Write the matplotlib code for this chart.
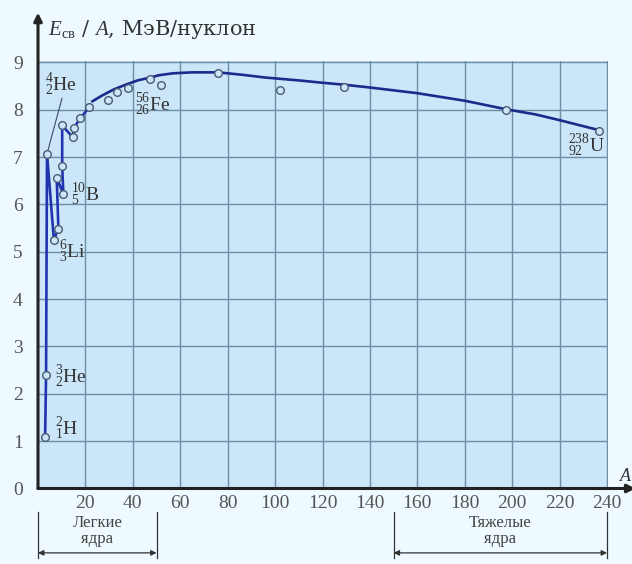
import matplotlib.pyplot as plt

plt.rcParams['font.family'] = ['Liberation Serif', 'DejaVu Serif']
plt.rcParams['mathtext.fontset'] = 'custom'
plt.rcParams['mathtext.rm'] = 'Liberation Serif'
plt.rcParams['mathtext.it'] = 'Liberation Serif:italic'

# measured nuclei (open circles): mass number A and binding energy per nucleon
point_A = [3.0, 3.4, 3.8, 6.7, 8.6, 7.9, 10.7, 10.2, 10.2, 14.6, 15.2, 17.8, 21.6,
           29.6, 33.4, 38, 47.4, 52, 76, 102, 129, 197.5, 236.6]
point_E = [1.08, 2.39, 7.07, 5.25, 5.49, 6.56, 6.22, 6.81, 7.67, 7.42, 7.62, 7.82, 8.05,
           8.2, 8.38, 8.47, 8.64, 8.53, 8.77, 8.41, 8.49, 7.99, 7.55]

# light nuclei broken line
light_A = [3.0, 3.4, 3.8, 6.7, 8.6, 7.9, 10.7, 10.2, 10.2, 14.6, 15.2, 17.8, 21.6]
light_E = [1.08, 2.39, 7.07, 5.25, 5.49, 6.56, 6.22, 6.81, 7.67, 7.42, 7.62, 7.82, 8.05]

# smooth trend from A ~ 23 to uranium
curve_A = [23, 27, 32, 37, 42, 47.4, 51, 57, 65, 76, 86, 96, 110, 120, 129, 140,
           160, 180, 197.5, 210, 220, 236.6]
curve_E = [8.18, 8.3, 8.43, 8.53, 8.62, 8.68, 8.73, 8.77, 8.79, 8.79, 8.74, 8.68,
           8.62, 8.57, 8.53, 8.47, 8.35, 8.19, 8.01, 7.9, 7.78, 7.57]

# isotope labels: (text, A, E)
labels = [(r'${}^{4}_{2}\mathrm{He}$', 3.0, 8.52),
          (r'${}^{56}_{26}\mathrm{Fe}$', 41.0, 8.1),
          (r'${}^{10}_{5}\mathrm{B}$', 14.0, 6.2),
          (r'${}^{6}_{3}\mathrm{Li}$', 8.8, 5.0),
          (r'${}^{3}_{2}\mathrm{He}$', 7.2, 2.35),
          (r'${}^{2}_{1}\mathrm{H}$', 7.2, 1.27),
          (r'${}^{238}_{92}\mathrm{U}$', 223.5, 7.23)]

x_ticks = list(range(20, 241, 20))
y_ticks = list(range(0, 10))

bg = '#eefaff'
fill = '#cae6f8'
line_c = '#1c2a8c'
grid_c = '#6d8ea5'
text_c = '#444444'

fig = plt.figure(figsize=(6.32, 5.64), dpi=100, facecolor=bg)
ax = fig.add_axes([38 / 632, 1 - 488.5 / 564, 570 / 632, 427.5 / 564])
ax.set_facecolor(fill)
ax.set_xlim(0, 240.4)
ax.set_ylim(0, 9.03)
ax.set_xticks(x_ticks)
ax.set_yticks(y_ticks)
ax.tick_params(length=0, labelsize=14, labelcolor='#555555')
ax.tick_params(axis='x', pad=5)
ax.tick_params(axis='y', pad=11)
ax.grid(True, color=grid_c, lw=1)
ax.set_axisbelow(True)
for s in ax.spines.values():
    s.set_visible(False)

# axes with arrows
ax.annotate('', xy=(0, 10.05), xytext=(0, 0),
            arrowprops=dict(arrowstyle='-|>', color='#222222', lw=2.2,
                            mutation_scale=12, shrinkA=0, shrinkB=0),
            annotation_clip=False)
ax.annotate('', xy=(252, 0), xytext=(0, 0),
            arrowprops=dict(arrowstyle='-|>', color='#222222', lw=2.2,
                            mutation_scale=12, shrinkA=0, shrinkB=0),
            annotation_clip=False)
ax.text(245.3, 0.15, 'A', fontsize=13, style='italic', color='#333333',
        clip_on=False)
ax.text(4.2, 9.7, r'$E_{\mathrm{св}}$ / $A$, МэВ/нуклон', fontsize=15,
        color='#333333', va='center', clip_on=False,
        family=['DejaVu Serif'])

# data
ax.plot(light_A, light_E, color='#2233b0', lw=1.9, zorder=3)
ax.plot(curve_A, curve_E, color=line_c, lw=1.9, zorder=3)
ax.plot([3.8, 10.1], [7.07, 8.24], color='#3a4a6a', lw=0.8, zorder=3)
ax.plot(point_A, point_E, 'o', ms=5.5, mfc=fill, mec='#4a5a72', mew=1, zorder=4)

for txt, a, e in labels:
    ax.text(a, e, txt, fontsize=14, color='#333333', va='center', zorder=5)

# light / heavy nuclei brackets below axis
for a0, a1, name in [(0, 50, 'Легкие\nядра'), (150, 240, 'Тяжелые\nядра')]:
    for a in (a0, a1):
        ax.plot([a, a], [-0.49, -1.46], color='#333333', lw=0.9, clip_on=False)
    ax.annotate('', xy=(a1, -1.36), xytext=(a0, -1.36),
                arrowprops=dict(arrowstyle='<|-|>', color='#333333', lw=0.9,
                                mutation_scale=8, shrinkA=0, shrinkB=0),
                annotation_clip=False)
    ax.text((a0 + a1) / 2, -0.9, name, ha='center', va='center', fontsize=12,
            color=text_c, linespacing=1.0, clip_on=False)

plt.savefig('out.png', dpi=100, facecolor=bg)
